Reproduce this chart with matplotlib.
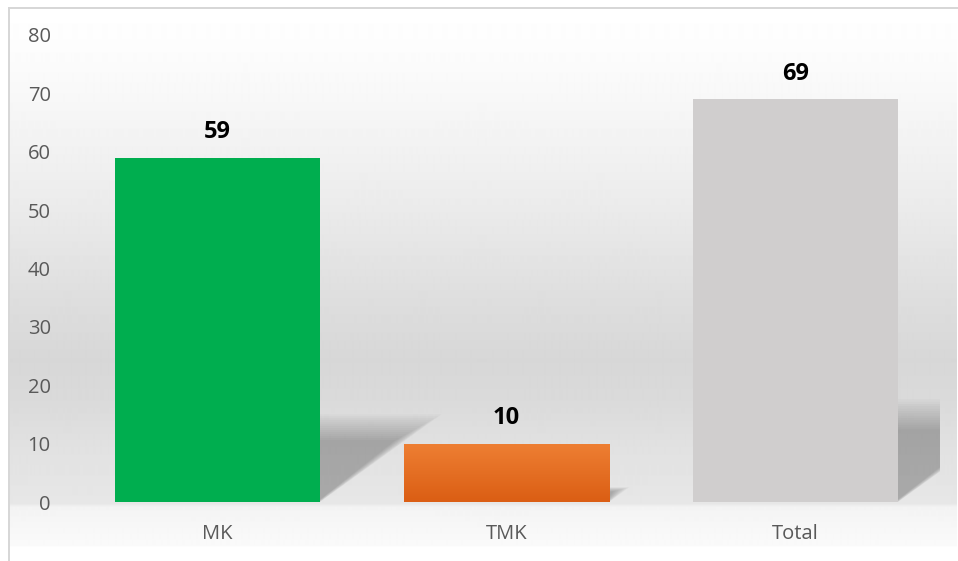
import numpy as np
import matplotlib
matplotlib.use("Agg")
import matplotlib.pyplot as plt
from matplotlib.patches import Polygon
from matplotlib.colors import LinearSegmentedColormap

plt.rcParams['font.family'] = ['Open Sans', 'DejaVu Sans']

categorias = ['MK', 'TMK', 'Total']
valores = [59, 10, 69]
cores = ['#00AE4F', '#EA7630', '#D0CECE']
y_ticks = [0, 10, 20, 30, 40, 50, 60, 70, 80]

W, H = 958, 561
fig = plt.figure(figsize=(W / 100, H / 100), dpi=100)
fig.patch.set_facecolor('white')

# fundo em degradê (coordenadas em pixels)
fundo = fig.add_axes([0, 0, 1, 1], zorder=0)
fundo.set_xlim(0, W)
fundo.set_ylim(H, 0)
fundo.axis('off')
linhas = np.arange(7, 547)
pos = [7, 48, 100, 200, 300, 360, 400, 450, 503, 507, 545, 547]
tons = [1.0, 0.99, 0.97, 0.925, 0.87, 0.843, 0.855, 0.885, 0.905, 0.955, 0.98, 1.0]
grad = np.interp(linhas, pos, tons)
img = np.repeat(grad[:, None], 2, axis=1)
fundo.imshow(img, extent=(10, W - 1, 547, 7), cmap='gray', vmin=0, vmax=1,
             aspect='auto', interpolation='bilinear')
fundo.plot([9.5, 9.5], [H, 7.5], color='#d6d6d6', lw=1.4)
fundo.plot([9.5, W], [7.5, 7.5], color='#d6d6d6', lw=1.4)

ax = fig.add_axes([73 / W, 59 / H, 867 / W, 467 / H], zorder=1)
ax.set_facecolor('none')

x = np.arange(len(categorias))
largura = 0.71

# sombras em perspectiva (várias camadas para suavizar as bordas)
k = 0.25
incl = 0.028
for i, v in zip(x, valores):
    x0 = i - largura / 2
    x1 = i + largura / 2
    for t in np.linspace(0.72, 1.02, 14):
        hh = k * v * t
        dx = incl * hh
        rec = (1.02 - t) * 0.12
        sombra = Polygon([(x0, 0), (x1 - rec * 0.3, 0), (x1 + dx - rec, hh), (x0 + dx, hh)],
                         closed=True, facecolor='black', edgecolor='none',
                         alpha=0.018, zorder=2)
        ax.add_patch(sombra)

barras = ax.bar(x, valores, width=largura, color=cores, zorder=3)

# degradê da barra laranja
b = barras[1]
grad_bar = np.linspace(0, 1, 50)[:, None]
cmap_lar = LinearSegmentedColormap.from_list('lar', ['#DB5E14', '#EE7F33'])
im = ax.imshow(grad_bar, extent=(b.get_x(), b.get_x() + b.get_width(), 0, b.get_height()),
               cmap=cmap_lar, origin='lower', aspect='auto', zorder=4)
im.set_clip_path(b)

for i, v in zip(x, valores):
    ax.annotate(str(v), (i, v), xytext=(0, 18.5), textcoords='offset points',
                ha='center', va='center', fontsize=17, fontweight='bold', color='black')

ax.set_xlim(-0.5, len(categorias) - 0.5)
ax.set_ylim(0, 80)
ax.set_xticks(x)
ax.set_xticklabels(categorias)
ax.set_yticks(y_ticks)
ax.tick_params(axis='both', length=0, labelsize=14.5, colors='#595959')
ax.tick_params(axis='y', pad=16)
ax.tick_params(axis='x', pad=16)
for s in ax.spines.values():
    s.set_visible(False)

fig.savefig('out.png', dpi=100)
